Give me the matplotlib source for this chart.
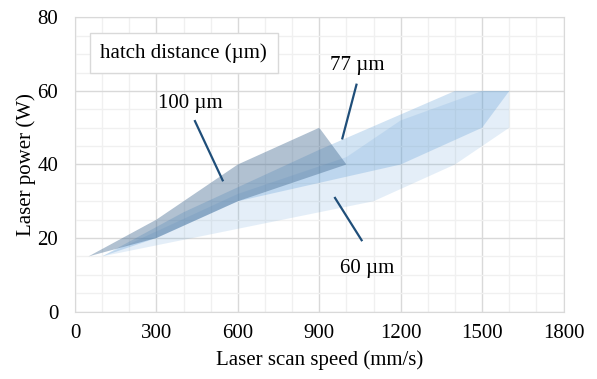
import matplotlib
matplotlib.use("Agg")
import matplotlib.pyplot as plt
from matplotlib.patches import Polygon
from matplotlib.ticker import MultipleLocator

plt.rcParams['font.family'] = ['Liberation Serif', 'DejaVu Serif']
plt.rcParams['font.size'] = 15

# Process windows (scan speed mm/s, laser power W), outline of each region
speed_60 = [100, 1100, 1400, 1600, 1600, 1500, 1200, 1000, 600, 100]
power_60 = [15, 30, 40, 50, 60, 60, 52, 42, 32, 15]

speed_77 = [100, 400, 900, 1400, 1600, 1500, 1200, 600, 300, 100]
power_77 = [15, 27, 44, 60, 60, 50, 40, 30, 20, 15]

speed_100 = [50, 300, 600, 900, 1000, 600, 300, 50]
power_100 = [15, 25, 40, 50, 40, 30, 20, 15]

labels = ["60 µm", "77 µm", "100 µm"]
label_xy = [(1075, 11.8), (1040, 67.0), (425, 56.5)]
line_start = [(958, 30.9), (1037, 61.7), (442, 51.8)]
line_end = [(1056, 19.4), (985, 47.1), (544, 35.7)]

fig = plt.figure(figsize=(5.97, 3.79), dpi=100)
ax = fig.add_axes([0.1256, 0.178, 0.944 - 0.1256, 0.954 - 0.178])

ax.add_patch(Polygon(list(zip(speed_60, power_60)), closed=True,
                     facecolor=(91/255, 155/255, 213/255), alpha=0.16, edgecolor='none', zorder=2))
ax.add_patch(Polygon(list(zip(speed_77, power_77)), closed=True,
                     facecolor=(91/255, 155/255, 213/255), alpha=0.28, edgecolor='none', zorder=3))
ax.add_patch(Polygon(list(zip(speed_100, power_100)), closed=True,
                     facecolor=(60/255, 100/255, 140/255), alpha=0.40, edgecolor='none', zorder=4))

for lab, xy, s, e in zip(labels, label_xy, line_start, line_end):
    ax.text(xy[0], xy[1], lab, ha='center', va='center', zorder=6)
    ax.plot([s[0], e[0]], [s[1], e[1]], color='#1f4e79', lw=1.6, zorder=5)

ax.set_xlim(0, 1800)
ax.set_ylim(0, 80)
ax.xaxis.set_major_locator(MultipleLocator(300))
ax.xaxis.set_minor_locator(MultipleLocator(100))
ax.yaxis.set_major_locator(MultipleLocator(20))
ax.yaxis.set_minor_locator(MultipleLocator(5))
ax.grid(which='major', color='#d9d9d9', lw=1.0, zorder=0)
ax.grid(which='minor', color='#f0f0f0', lw=1.0, zorder=0)
ax.set_axisbelow(True)
ax.tick_params(which='both', length=0)
ax.tick_params(axis='x', pad=9)
ax.tick_params(axis='y', pad=12)
for sp in ax.spines.values():
    sp.set_color('#d9d9d9')

ax.set_xlabel("Laser scan speed (mm/s)", labelpad=5)
ax.set_ylabel("Laser power (W)", labelpad=1)

ax.text(0.052, 0.879, "hatch distance (µm)", transform=ax.transAxes,
        ha='left', va='center', zorder=7,
        bbox=dict(boxstyle='square,pad=0.5', facecolor='white', edgecolor='#d9d9d9', lw=1))

fig.savefig("out.png", dpi=100)
